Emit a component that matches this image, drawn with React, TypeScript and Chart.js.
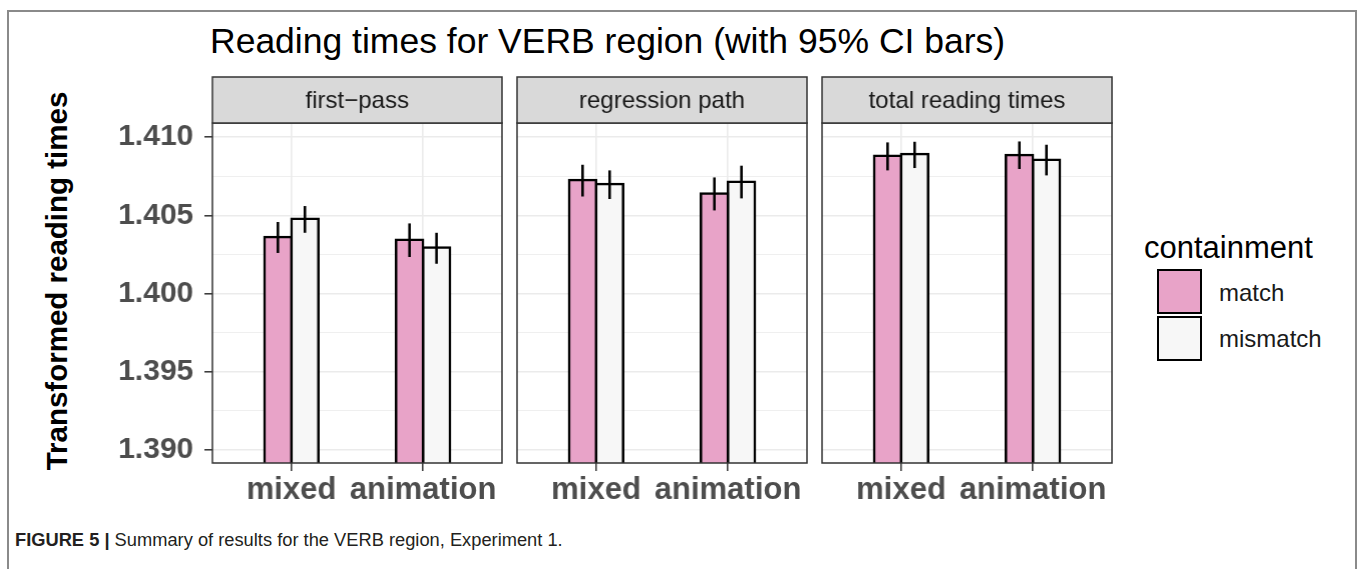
import React, { useEffect, useRef } from 'react';
import { Chart, registerables } from 'chart.js';

Chart.register(...registerables);

// Categories, facets and groups
const CATEGORIES = ['mixed', 'animation'];
const PANELS = ['first\u2212pass', 'regression path', 'total reading times'];
const GROUPS = ['match', 'mismatch'];
const GROUP_COLORS = ['#E8A3C8', '#F7F7F7'];

// Means and 95% CI bounds, one row per facet, one value per category
const MATCH_MEAN = [[1.40362, 1.40345], [1.40726, 1.40641], [1.40882, 1.40886]];
const MATCH_LOW = [[1.4026, 1.40234], [1.40621, 1.40532], [1.40788, 1.40797]];
const MATCH_HIGH = [[1.40458, 1.40449], [1.40824, 1.40743], [1.40967, 1.40973]];
const MISMATCH_MEAN = [[1.40479, 1.40295], [1.40701, 1.40715], [1.40893, 1.40856]];
const MISMATCH_LOW = [[1.40389, 1.40191], [1.40605, 1.40609], [1.40803, 1.40756]];
const MISMATCH_HIGH = [[1.4056, 1.40389], [1.40788, 1.40818], [1.40971, 1.40952]];

const MEANS = [MATCH_MEAN, MISMATCH_MEAN];
const LOWS = [MATCH_LOW, MISMATCH_LOW];
const HIGHS = [MATCH_HIGH, MISMATCH_HIGH];

// Value axis
const Y_TICKS = [1.39, 1.395, 1.4, 1.405, 1.41];
const Y_MINOR = [1.3925, 1.3975, 1.4025, 1.4075];
const Y_MIN = 1.38917;
const Y_MAX = 1.41091;

// Layout
const FONT = '"Liberation Sans", Arial, Helvetica, sans-serif';
const PANEL_LEFTS = [212, 517, 822];
const PANEL_W = 289.5;
const AXIS_W = 212;
const CANVAS_H = 520;
const STRIP_TOP = 77;
const AREA_TOP = 123;
const X_AXIS_H = 57;

const stripPlugin = {
  id: 'panelStrip',
  afterDraw(chart: any, _args: any, opts: any) {
    const { ctx, chartArea } = chart;
    const { left, right, top } = chartArea;
    ctx.save();
    ctx.fillStyle = '#D9D9D9';
    ctx.fillRect(left, STRIP_TOP, right - left, top - STRIP_TOP);
    ctx.strokeStyle = '#333333';
    ctx.lineWidth = 1.5;
    ctx.strokeRect(left, STRIP_TOP, right - left, top - STRIP_TOP);
    ctx.fillStyle = '#1A1A1A';
    ctx.font = `24px ${FONT}`;
    ctx.textAlign = 'center';
    ctx.textBaseline = 'middle';
    ctx.fillText(opts.title, (left + right) / 2, (STRIP_TOP + top) / 2 + 1);
    ctx.restore();
  },
};

const errorBarPlugin = {
  id: 'errorBars',
  afterDatasetsDraw(chart: any) {
    const { ctx } = chart;
    const yScale = chart.scales.y;
    ctx.save();
    ctx.strokeStyle = '#000000';
    ctx.lineWidth = 2.6;
    chart.data.datasets.forEach((ds: any, di: number) => {
      const meta = chart.getDatasetMeta(di);
      meta.data.forEach((bar: any, i: number) => {
        const lo = yScale.getPixelForValue(ds.lows[i]);
        const hi = yScale.getPixelForValue(ds.highs[i]);
        ctx.beginPath();
        ctx.moveTo(bar.x, lo);
        ctx.lineTo(bar.x, hi);
        ctx.stroke();
      });
    });
    const { left, top, right, bottom } = chart.chartArea;
    ctx.strokeStyle = '#333333';
    ctx.lineWidth = 1.5;
    ctx.strokeRect(left, top, right - left, bottom - top);
    ctx.restore();
  },
};

function Panel({ index }: { index: number }) {
  const ref = useRef<HTMLCanvasElement>(null);
  const first = index === 0;
  const leftSpace = first ? AXIS_W : 6;
  const width = leftSpace + PANEL_W + 6;

  useEffect(() => {
    if (!ref.current) return;
    const chart = new Chart(ref.current, {
      type: 'bar',
      data: {
        datasets: GROUPS.map((g, gi) => ({
          label: g,
          data: CATEGORIES.map((_, ci) => ({ x: ci + 1, y: MEANS[gi][index][ci] })),
          lows: LOWS[gi][index],
          highs: HIGHS[gi][index],
          backgroundColor: GROUP_COLORS[gi],
          borderColor: '#000000',
          borderWidth: 2.5,
          base: Y_MIN - 0.001,
          inflateAmount: 1.25,
          categoryPercentage: 0.41,
          barPercentage: 1,
          clip: 0,
        })) as any,
      },
      options: {
        responsive: false,
        animation: false,
        events: [],
        layout: { padding: { left: first ? 0 : 6, right: 6, top: AREA_TOP, bottom: 0 } },
        plugins: {
          legend: { display: false },
          tooltip: { enabled: false },
          panelStrip: { title: PANELS[index] },
        } as any,
        scales: {
          x: {
            type: 'linear',
            min: 0.4,
            max: 2.6,
            offset: false,
            afterBuildTicks: (s: any) => {
              s.ticks = CATEGORIES.map((_, i) => ({ value: i + 1 }));
            },
            afterFit: (s: any) => {
              s.height = X_AXIS_H;
            },
            ticks: {
              callback: (v: any) => CATEGORIES[Math.round(v) - 1],
              font: { family: FONT, size: 31, weight: 'bold' },
              color: '#4D4D4D',
              padding: 1,
              maxRotation: 0,
              autoSkip: false,
            },
            grid: {
              offset: false,
              color: '#EBEBEB',
              lineWidth: 1.6,
              tickColor: '#333333',
              tickWidth: 1.5,
              tickLength: 8,
            },
            border: { display: false },
          },
          y: {
            type: 'linear',
            min: Y_MIN,
            max: Y_MAX,
            afterBuildTicks: (s: any) => {
              s.ticks = [
                ...Y_TICKS.map((v) => ({ value: v, major: true })),
                ...Y_MINOR.map((v) => ({ value: v, major: false })),
              ].sort((a, b) => a.value - b.value);
            },
            afterFit: (s: any) => {
              s.width = first ? AXIS_W : 0;
            },
            ticks: {
              display: first,
              callback: (v: any, i: number, ticks: any[]) =>
                ticks[i] && ticks[i].major ? Number(v).toFixed(3) : '',
              font: { family: FONT, size: 30, weight: 'bold' },
              color: '#4D4D4D',
              padding: 11,
            },
            grid: {
              color: '#EBEBEB',
              lineWidth: (c: any) => (c.tick && c.tick.major ? 1.6 : 0.8),
              drawTicks: first,
              tickLength: 8,
              tickWidth: 1.5,
              tickColor: (c: any) => (c.tick && c.tick.major ? '#333333' : 'rgba(0,0,0,0)'),
            },
            border: { display: false },
          },
        },
      } as any,
      plugins: [stripPlugin, errorBarPlugin],
    });
    return () => chart.destroy();
  }, [index, first]);

  return (
    <canvas
      ref={ref}
      width={width}
      height={CANVAS_H}
      style={{ position: 'absolute', left: PANEL_LEFTS[index] - leftSpace, top: 0, width, height: CANVAS_H }}
    />
  );
}

export default function App() {
  return (
    <div
      style={{
        position: 'absolute',
        left: 0,
        top: 0,
        width: 1358,
        height: 569,
        overflow: 'hidden',
        background: '#ffffff',
        fontFamily: FONT,
      }}
    >
      <div
        style={{
          position: 'absolute',
          left: 7,
          top: 10,
          width: 1346,
          height: 600,
          border: '2px solid #8A8A8A',
        }}
      />
      <div
        style={{
          position: 'absolute',
          left: 210,
          top: 24,
          fontSize: 35.5,
          lineHeight: '35.5px',
          color: '#000',
          whiteSpace: 'nowrap',
        }}
      >
        Reading times for VERB region (with 95% CI bars)
      </div>
      <div
        style={{
          position: 'absolute',
          left: 57,
          top: 281,
          transform: 'translate(-50%, -50%) rotate(-90deg)',
          fontSize: 29.5,
          fontWeight: 'bold',
          color: '#000',
          whiteSpace: 'nowrap',
          lineHeight: '30px',
        }}
      >
        Transformed reading times
      </div>
      {PANELS.map((_, i) => (
        <Panel key={i} index={i} />
      ))}
      <div
        style={{
          position: 'absolute',
          left: 1144,
          top: 232,
          fontSize: 31,
          lineHeight: '31px',
          color: '#000',
          whiteSpace: 'nowrap',
        }}
      >
        containment
      </div>
      {GROUPS.map((g, gi) => (
        <React.Fragment key={g}>
          <div
            style={{
              position: 'absolute',
              left: 1157,
              top: 269 + gi * 47,
              width: 45,
              height: 45,
              boxSizing: 'border-box',
              border: '2.5px solid #000',
              background: GROUP_COLORS[gi],
            }}
          />
          <div
            style={{
              position: 'absolute',
              left: 1219,
              top: 281 + gi * 46,
              fontSize: 24,
              lineHeight: '24px',
              color: '#1A1A1A',
              whiteSpace: 'nowrap',
            }}
          >
            {g}
          </div>
        </React.Fragment>
      ))}
      <div
        style={{
          position: 'absolute',
          left: 15,
          top: 531,
          fontSize: 18.3,
          lineHeight: '18px',
          color: '#231F20',
          whiteSpace: 'nowrap',
          fontFamily: '"Liberation Sans Narrow", "Arial Narrow", "Liberation Sans", sans-serif',
        }}
      >
        <b>FIGURE 5 |</b> Summary of results for the VERB region, Experiment 1.
      </div>
    </div>
  );
}
